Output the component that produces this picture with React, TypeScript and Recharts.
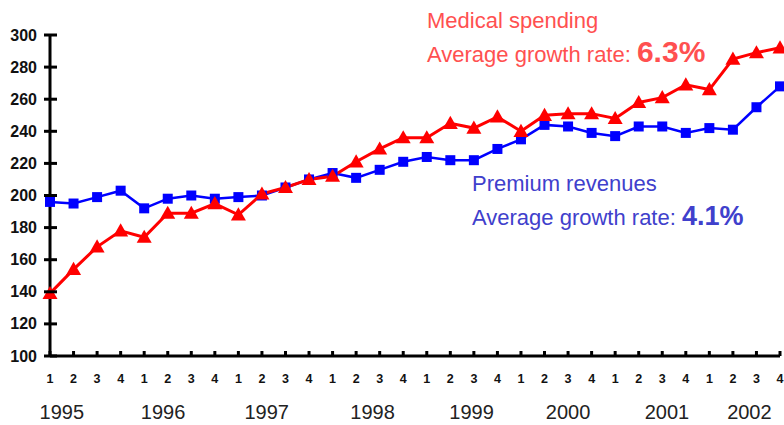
import { LineChart, Line, XAxis, YAxis } from 'recharts'

const quarterLabels = ['1', '2', '3', '4', '1', '2', '3', '4', '1', '2', '3', '4', '1', '2', '3', '4',
  '1', '2', '3', '4', '1', '2', '3', '4', '1', '2', '3', '4', '1', '2', '3', '4']

// medical spending vs premium revenues, index, quarterly 1995-2002
const medicalSpending = [139, 154, 168, 178, 174, 189, 189, 195, 188, 201, 205, 210, 212, 221, 229, 236,
  236, 245, 242, 249, 240, 250, 251, 251, 248, 258, 261, 269, 266, 285, 289, 292]
const premiumRevenues = [196, 195, 199, 203, 192, 198, 200, 198, 199, 200, 205, 210, 214, 211, 216, 221,
  224, 222, 222, 229, 235, 244, 243, 239, 237, 243, 243, 239, 242, 241, 255, 268]

const yearLabels = ['1995', '1996', '1997', '1998', '1999', '2000', '2001', '2002']
// where the year captions sit along the quarter axis (as in the original slide)
const yearPositions = [0.5, 4.8, 9.2, 13.7, 17.9, 22.0, 26.2, 29.7]

const yTicks = [100, 120, 140, 160, 180, 200, 220, 240, 260, 280, 300]

const data = quarterLabels.map((q, i) => ({
  idx: i,
  medical: medicalSpending[i],
  premium: premiumRevenues[i],
}))

const FONT = '"Liberation Sans", Arial, sans-serif'

function YTick({ x, y, payload }: any) {
  return (
    <g>
      <line x1={x - 6} x2={x + 7} y1={y} y2={y} stroke="#000" strokeWidth={3} />
      <text x={x - 13} y={y} textAnchor="end" dominantBaseline="central"
        fontFamily={FONT} fontSize={16} fontWeight="bold" fill="#111">
        {payload.value}
      </text>
    </g>
  )
}

function QuarterTick({ x, y, payload }: any) {
  return (
    <g>
      <line x1={x} x2={x} y1={y - 5} y2={y} stroke="#000" strokeWidth={3} />
      <text x={x} y={y + 23} textAnchor="middle" dominantBaseline="central"
        fontFamily={FONT} fontSize={12.5} fontWeight="bold" fill="#111">
        {quarterLabels[payload.value]}
      </text>
    </g>
  )
}

function YearTick({ x, y, index }: any) {
  return (
    <text x={x} y={y + 16} textAnchor="middle" dominantBaseline="central"
      fontFamily={FONT} fontSize={20} fill="#222">
      {yearLabels[index]}
    </text>
  )
}

function TriangleDot({ cx, cy, index }: any) {
  const s = 7.5
  return (
    <polygon key={`t${index}`} points={`${cx},${cy - s} ${cx - s},${cy + s * 0.75} ${cx + s},${cy + s * 0.75}`}
      fill="#ff0000" />
  )
}

function SquareDot({ cx, cy, index }: any) {
  return <rect key={`s${index}`} x={cx - 5} y={cy - 5} width={10} height={10} fill="#0000ff" />
}

export default function App() {
  return (
    <div style={{ position: 'absolute', left: 0, top: 0, width: 784, height: 425, background: '#fff' }}>
      <LineChart width={784} height={425} data={data} margin={{ top: 35, right: 4, bottom: 0, left: 0 }}>
        <YAxis domain={[100, 300]} ticks={yTicks} width={50} tickSize={0} tickMargin={0}
          axisLine={{ stroke: '#000', strokeWidth: 3 }} tickLine={false} tick={<YTick />} interval={0} />
        <XAxis xAxisId="q" dataKey="idx" type="number" domain={[0, 31]} ticks={data.map((d) => d.idx)}
          interval={0} height={40} tickSize={0} tickMargin={0} tickLine={false}
          axisLine={{ stroke: '#000', strokeWidth: 3 }} tick={<QuarterTick />} />
        <XAxis xAxisId="year" dataKey="idx" type="number" domain={[0, 31]} ticks={yearPositions}
          interval={0} height={29} tickSize={0} tickMargin={0} tickLine={false} axisLine={false}
          tick={<YearTick />} allowDataOverflow />
        <Line xAxisId="q" dataKey="premium" stroke="#0000ff" strokeWidth={2.5} dot={SquareDot}
          isAnimationActive={false} />
        <Line xAxisId="q" dataKey="medical" stroke="#ff0000" strokeWidth={3} dot={TriangleDot}
          isAnimationActive={false} />
      </LineChart>
      <svg width={784} height={425} style={{ position: 'absolute', left: 0, top: 0, pointerEvents: 'none' }}>
        <text x={427} y={28} fontFamily={FONT} fontSize={22} fill="#ff5050">Medical spending</text>
        <text x={427} y={62} fontFamily={FONT} fontSize={22} fill="#ff5050">
          Average growth rate: <tspan fontSize={30} fontWeight="bold">6.3%</tspan>
        </text>
        <text x={472} y={191} fontFamily={FONT} fontSize={22} fill="#4040cc">Premium revenues</text>
        <text x={472} y={225} fontFamily={FONT} fontSize={22} fill="#4040cc">
          Average growth rate: <tspan fontSize={27} fontWeight="bold">4.1%</tspan>
        </text>
      </svg>
    </div>
  )
}
